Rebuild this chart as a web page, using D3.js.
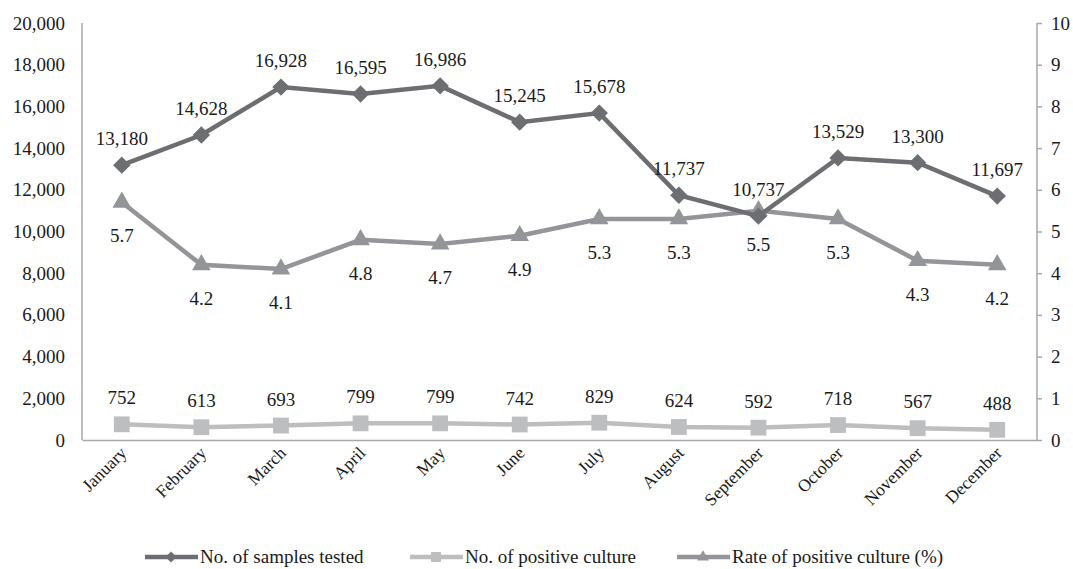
<!DOCTYPE html>
<html>
<head>
<meta charset="utf-8">
<script src="https://cdn.jsdelivr.net/npm/d3@7"></script>
<style>
  body { margin: 0; background: #fff; }
  text { font-family: "Liberation Serif", "Times New Roman", serif; fill: #1a1a1a; }
</style>
</head>
<body>
<div id="chart"></div>
<script>
// months and the three series
var months = ["January", "February", "March", "April", "May", "June", "July",
              "August", "September", "October", "November", "December"];
var samplesTested = [13180, 14628, 16928, 16595, 16986, 15245, 15678, 11737, 10737, 13529, 13300, 11697];
var positiveCulture = [752, 613, 693, 799, 799, 742, 829, 624, 592, 718, 567, 488];
var positiveRate = [5.7, 4.2, 4.1, 4.8, 4.7, 4.9, 5.3, 5.3, 5.5, 5.3, 4.3, 4.2];
var leftTicks = [0, 2000, 4000, 6000, 8000, 10000, 12000, 14000, 16000, 18000, 20000];
var rightTicks = [0, 1, 2, 3, 4, 5, 6, 7, 8, 9, 10];

var width = 1073, height = 569;
var plotLeft = 82, plotRight = 1037, plotTop = 23, plotBottom = 440;

var svg = d3.select("#chart").append("svg").attr("width", width).attr("height", height);

// scales: months are bands, counts on the left, percentage on the right
var x = d3.scaleBand().domain(months).range([plotLeft, plotRight]);
var yL = d3.scaleLinear().domain([0, 20000]).range([plotBottom, plotTop]);
var yR = d3.scaleLinear().domain([0, 10]).range([plotBottom, plotTop]);
var fmt = d3.format(",");

// axes
var axisColor = "#a7a9ac";
var leftAxis = svg.append("g").attr("transform", "translate(" + plotLeft + ",0)")
    .call(d3.axisLeft(yL).tickValues(leftTicks).tickFormat(fmt).tickSize(0).tickPadding(17));
var rightAxis = svg.append("g").attr("transform", "translate(" + plotRight + ",0)")
    .call(d3.axisRight(yR).tickValues(rightTicks).tickSize(5).tickPadding(9));
var bottomAxis = svg.append("g").attr("transform", "translate(0," + plotBottom + ")")
    .call(d3.axisBottom(x).tickSize(0).tickFormat(""));

[leftAxis, rightAxis, bottomAxis].forEach(function(g){
  g.selectAll(".domain").attr("stroke", axisColor).attr("stroke-width", 1.5);
  g.selectAll(".tick line").attr("stroke", axisColor).attr("stroke-width", 1.5);
  g.selectAll(".tick text").style("font-size", "19px").attr("fill", "#1a1a1a")
    .style("font-family", "'Liberation Serif', serif");
});
leftAxis.select(".domain").attr("d", "M0," + plotTop + "V" + plotBottom);
rightAxis.select(".domain").attr("d", "M0," + plotTop + "V" + plotBottom);

// rotated month labels
svg.append("g").selectAll("text").data(months).enter().append("text")
    .attr("transform", function(m){
      return "translate(" + (x(m) + x.bandwidth() / 2 + 6) + "," + (plotBottom + 14) + ") rotate(-45)";
    })
    .attr("text-anchor", "end")
    .style("font-size", "17.5px")
    .text(function(m){ return m; });

var cx = function(d, i){ return x(months[i]) + x.bandwidth() / 2; };

var series = [
  { name: "No. of samples tested", values: samplesTested, y: yL, color: "#6d6e71",
    symbol: d3.symbolSquare, size: 150, rotate: 45, labelDy: -20, fmt: fmt },
  { name: "No. of positive culture", values: positiveCulture, y: yL, color: "#bcbec0",
    symbol: d3.symbolSquare, size: 250, rotate: 0, labelDy: -20, fmt: fmt },
  { name: "Rate of positive culture (%)", values: positiveRate, y: yR, color: "#939598",
    symbol: d3.symbolTriangle, size: 150, rotate: 0, labelDy: 40, fmt: d3.format(".1f") }
];

// draw rate first so the samples line sits on top where they cross
[series[2], series[1], series[0]].forEach(function(s){
  var line = d3.line().x(cx).y(function(d){ return s.y(d); });
  svg.append("path").datum(s.values)
      .attr("d", line).attr("fill", "none")
      .attr("stroke", s.color).attr("stroke-width", 4.5);
  svg.append("g").selectAll("path").data(s.values).enter().append("path")
      .attr("d", d3.symbol().type(s.symbol).size(s.size))
      .attr("transform", function(d, i){
        return "translate(" + cx(d, i) + "," + s.y(d) + ") rotate(" + s.rotate + ")";
      })
      .attr("fill", s.color);
});

series.forEach(function(s){
  svg.append("g").selectAll("text").data(s.values).enter().append("text")
      .attr("x", cx)
      .attr("y", function(d){ return s.y(d) + s.labelDy; })
      .attr("text-anchor", "middle")
      .style("font-size", "19px")
      .text(function(d){ return s.fmt(d); });
});

// legend along the bottom
var legendX = [145, 410, 677];
var legend = svg.append("g").selectAll("g").data(series).enter().append("g")
    .attr("transform", function(s, i){ return "translate(" + legendX[i] + ",557)"; });
legend.append("line").attr("x1", 0).attr("x2", 53)
    .attr("stroke", function(s){ return s.color; }).attr("stroke-width", 4.5);
legend.append("path")
    .attr("d", function(s){ return d3.symbol().type(s.symbol).size(s.size * 0.4)(); })
    .attr("transform", function(s){ return "translate(26,0) rotate(" + s.rotate + ")"; })
    .attr("fill", function(s){ return s.color; });
legend.append("text").attr("x", 55).attr("y", 6)
    .style("font-size", "19px")
    .text(function(s){ return s.name; });
</script>
</body>
</html>
